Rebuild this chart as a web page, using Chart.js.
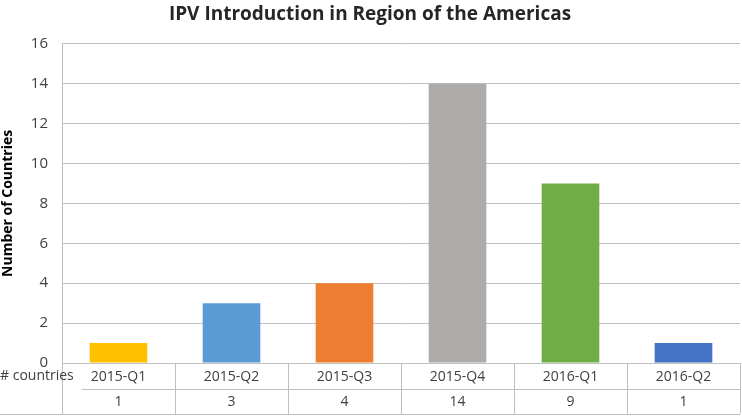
<!DOCTYPE html>
<html>
<head>
<meta charset="utf-8">
<script src="https://cdn.jsdelivr.net/npm/chart.js@4/dist/chart.umd.min.js"></script>
<style>
    html, body { margin: 0; padding: 0; background: #fff; }
    #wrap { width: 742px; height: 417px; position: relative; }
</style>
</head>
<body>
<div id="wrap"><canvas id="ipvChart"></canvas></div>
<script>
// Chart data
const quarters = ['2015-Q1', '2015-Q2', '2015-Q3', '2015-Q4', '2016-Q1', '2016-Q2'];
const countries = [1, 3, 4, 14, 9, 1];
const barColors = ['#FFC000', '#5B9BD5', '#ED7D31', '#AEABAB', '#70AD47', '#4472C4'];
const yTicks = [0, 2, 4, 6, 8, 10, 12, 14, 16];
const rowLabel = '# countries';

const fontFamily = '"Open Sans", "Liberation Sans", sans-serif';
const textColor = '#404040';
const lineColor = '#BFBFBF';

// Draws the data table lines and the row label below the plot
const dataTablePlugin = {
    id: 'dataTable',
    afterDraw(chart) {
        const ctx = chart.ctx;
        const area = chart.chartArea;
        const step = (area.right - area.left) / quarters.length;
        const top = area.bottom;
        const mid = top + 26;
        const bottom = top + 51;

        ctx.save();
        ctx.strokeStyle = lineColor;
        ctx.lineWidth = 1;

        // vertical separators
        for (let i = 0; i <= quarters.length; i++) {
            const px = Math.round(area.left + i * step) + 0.5;
            ctx.beginPath();
            ctx.moveTo(px, top);
            ctx.lineTo(px, bottom);
            ctx.stroke();
        }
        // row separator
        ctx.beginPath();
        ctx.moveTo(82, mid + 0.5);
        ctx.lineTo(area.right, mid + 0.5);
        ctx.stroke();
        // bottom line
        ctx.beginPath();
        ctx.moveTo(0, bottom + 0.5);
        ctx.lineTo(area.right, bottom + 0.5);
        ctx.stroke();

        // row label
        ctx.fillStyle = textColor;
        ctx.font = '14px ' + fontFamily;
        ctx.textAlign = 'left';
        ctx.textBaseline = 'middle';
        ctx.fillText(rowLabel, 0, top + 13);
        ctx.restore();
    }
};

const ctx = document.getElementById('ipvChart').getContext('2d');
const chart = new Chart(ctx, {
    type: 'bar',
    data: {
        labels: quarters.map((q, i) => [q, String(countries[i])]),
        datasets: [{
            label: 'Number of Countries',
            data: countries,
            backgroundColor: barColors,
            borderWidth: 0,
            categoryPercentage: 1,
            barPercentage: 0.51
        }]
    },
    options: {
        responsive: true,
        maintainAspectRatio: false,
        animation: false,
        layout: { padding: { top: 0, right: 2, bottom: 0, left: 0 } },
        plugins: {
            legend: { display: false },
            tooltip: { enabled: false },
            title: {
                display: true,
                text: 'IPV Introduction in Region of the Americas',
                color: '#262626',
                font: { family: fontFamily, size: 19, weight: 'bold' },
                padding: { top: 3, bottom: 18 }
            }
        },
        scales: {
            x: {
                grid: { display: false, drawTicks: false },
                border: { display: false },
                ticks: {
                    color: textColor,
                    font: { family: fontFamily, size: 14, lineHeight: 1.8 },
                    padding: 1,
                    maxRotation: 0,
                    autoSkip: false
                },
                afterFit(scale) { scale.height = 54; }
            },
            y: {
                min: 0,
                max: 16,
                afterBuildTicks(scale) { scale.ticks = yTicks.map(v => ({ value: v })); },
                grid: { color: lineColor, lineWidth: 1, drawTicks: false },
                border: { display: true, color: lineColor },
                ticks: {
                    color: textColor,
                    font: { family: fontFamily, size: 15 },
                    padding: 14
                },
                title: {
                    display: true,
                    text: 'Number of Countries',
                    color: '#000',
                    font: { family: fontFamily, size: 14, weight: 'bold' },
                    padding: { top: 0, bottom: 0 }
                },
                afterFit(scale) { scale.width = 62; }
            }
        }
    },
    plugins: [dataTablePlugin]
});
</script>
</body>
</html>
